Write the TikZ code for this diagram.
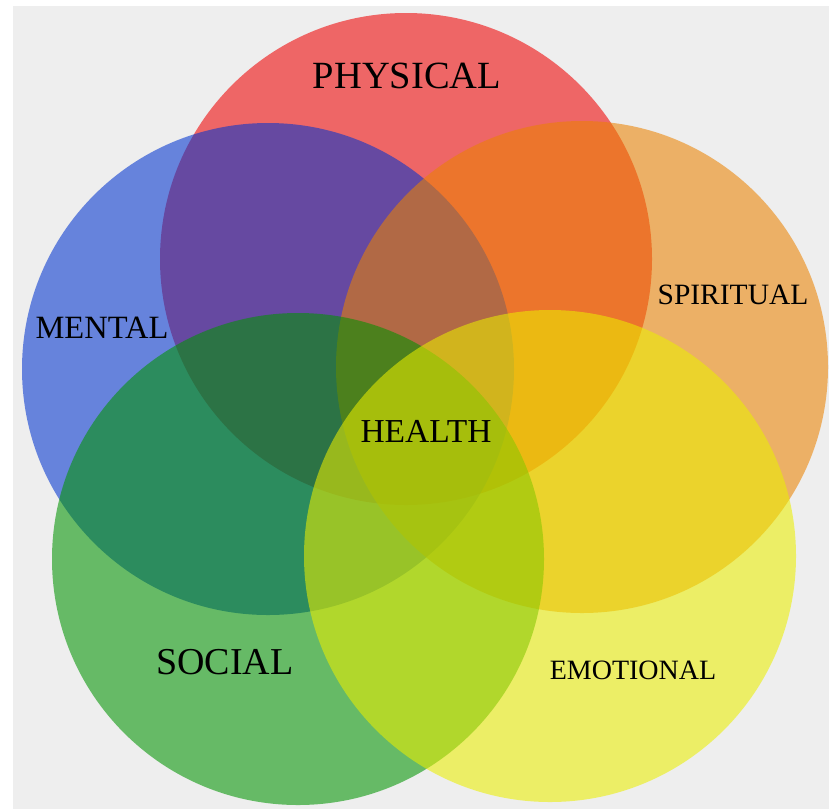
\documentclass[tikz,border=0pt]{standalone}
\usepackage{fontspec}
\setmainfont{Liberation Serif}
\usepackage{xcolor}
\usepackage{tikz}
\definecolor{backgray}{RGB}{238,238,238}
\definecolor{physred}{RGB}{238,0,0}
\definecolor{mentblue}{RGB}{0,51,207}
\definecolor{spirorange}{RGB}{235,130,0}
\definecolor{socgreen}{RGB}{0,147,0}
\definecolor{emoyellow}{RGB}{235,238,0}
\tikzset{x=1pt,y=-1pt,
    area/.style={fill=#1,fill opacity=0.57},
    word/.style={inner sep=0pt,text=black},
    wordsize/.style={font=\fontsize{#1}{#1}\selectfont}}

\begin{document}
\begin{tikzpicture}
\fill[white] (0,0) rectangle (829,809);
\fill[backgray] (13,6) rectangle (829,809);
\fill[area=physred] (406,259) circle (246);
\fill[area=mentblue] (268,369) circle (246);
\fill[area=spirorange] (582,367) circle (246);
\fill[area=socgreen] (298,559) circle (246);
\fill[area=emoyellow] (550,556) circle (246);
\node[word,wordsize=38.5] (physical) at (407,76) {PHYSICAL};
\node[word,wordsize=32.5] (mental) at (102,328) {MENTAL};
\node[word,wordsize=29.5] (spiritual) at (733,295) {SPIRITUAL};
\node[word,wordsize=33.5] (health) at (426,431) {HEALTH};
\node[word,wordsize=38] (social) at (225,662) {SOCIAL};
\node[word,wordsize=28] (emotional) at (633,670) {EMOTIONAL};
\end{tikzpicture}
\end{document}
